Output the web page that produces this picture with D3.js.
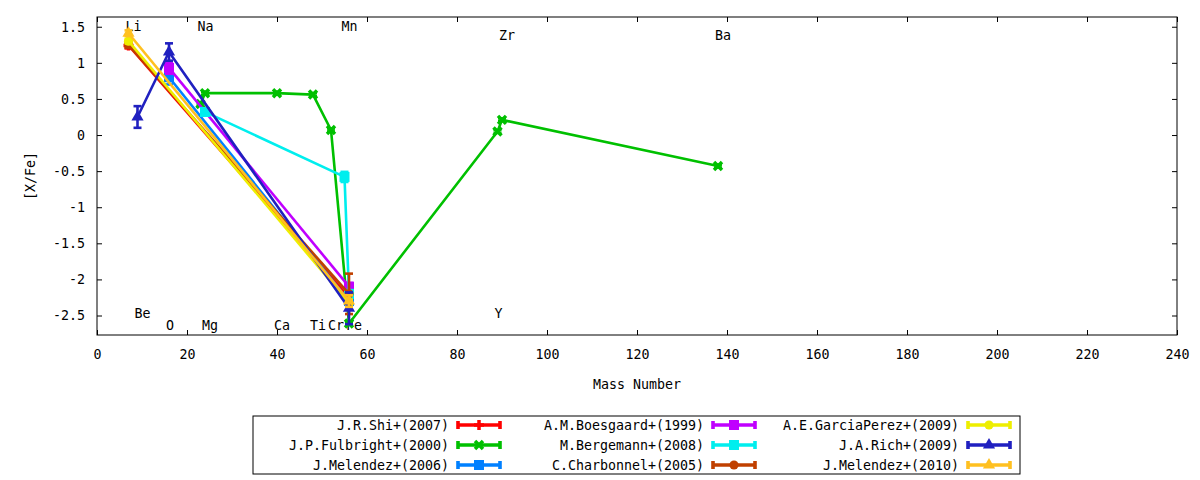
<!DOCTYPE html>
<html>
<head>
<meta charset="utf-8">
<script src="https://cdn.jsdelivr.net/npm/d3@7"></script>
<style>
    body { margin: 0; background: #fff; }
    svg text { font-family: "DejaVu Sans Mono", monospace; font-size: 13.3px; fill: #000; }
</style>
</head>
<body>
<svg id="chart"></svg>
<script>
// axis ticks
const xTicks = [0, 20, 40, 60, 80, 100, 120, 140, 160, 180, 200, 220, 240];
const yTicks = [-2.5, -2, -1.5, -1, -0.5, 0, 0.5, 1, 1.5];

// element labels: mass number and the [X/Fe] level the label sits at
const elements = ["Li", "Be", "O", "Na", "Mg", "Ca", "Ti", "Cr", "Mn", "Fe", "Y", "Zr", "Ba"];
const massNumbers = [7, 9, 16, 23, 24, 40, 48, 52, 55, 56, 89, 90, 138];
const labelLevels = [1.5, -2.47, -2.64, 1.5, -2.64, -2.64, -2.64, -2.64, 1.5, -2.64, -2.47, 1.38, 1.38];

// one entry per reference
const seriesNames = [
    "J.R.Shi+(2007)", "J.P.Fulbright+(2000)", "J.Melendez+(2006)",
    "A.M.Boesgaard+(1999)", "M.Bergemann+(2008)", "C.Charbonnel+(2005)",
    "A.E.GarciaPerez+(2009)", "J.A.Rich+(2009)", "J.Melendez+(2010)"
];
const seriesElements = [
    ["Li", "Fe"],
    ["Na", "Mg", "Ca", "Ti", "Cr", "Fe", "Y", "Zr", "Ba"],
    ["O", "Fe"],
    ["O", "Fe"],
    ["Mg", "Mn", "Fe"],
    ["Li", "Fe"],
    ["Li", "Fe"],
    ["Be", "O", "Fe"],
    ["Li", "Fe"]
];
const seriesValues = [
    [1.24, -2.25],
    [0.43, 0.58, 0.58, 0.56, 0.07, -2.61, 0.05, 0.21, -0.43],
    [0.8, -2.3],
    [0.93, -2.1],
    [0.32, -0.58, -2.2],
    [1.25, -2.2],
    [1.3, -2.33],
    [0.25, 1.15, -2.4],
    [1.41, -2.3]
];
const seriesErrors = [
    [0.04, 0.05],
    [0.02, 0.02, 0.02, 0.02, 0.02, 0.02, 0.02, 0.02, 0.02],
    [0.1, 0.08],
    [0.08, 0.05],
    [0.05, 0.07, 0.05],
    [0.04, 0.28],
    [0.03, 0.05],
    [0.15, 0.12, 0.22],
    [0.04, 0.08]
];

class AbundanceChart {

    constructor(_config, _data) {
        this.config = {
            parentElement: _config.parentElement,
            containerWidth: _config.containerWidth || 1200,
            containerHeight: _config.containerHeight || 480,
            margin: { top: 17, right: 23, bottom: 145, left: 97, ..._config.margin },
            xDomain: _config.xDomain,
            yDomain: _config.yDomain,
            colors: _config.colors,
            symbols: _config.symbols,
            lineWidth: 2.6,
            tickLength: 5,
        };
        this.data = _data;
        this.initVis();
    }

    initVis() {
        const cfg = this.config;
        this.width = cfg.containerWidth - cfg.margin.left - cfg.margin.right;
        this.height = cfg.containerHeight - cfg.margin.top - cfg.margin.bottom;

        this.xScale = d3.scaleLinear().domain(cfg.xDomain).range([0, this.width]);
        this.yScale = d3.scaleLinear().domain(cfg.yDomain).range([this.height, 0]);

        this.svg = d3.select(cfg.parentElement)
            .attr("width", cfg.containerWidth)
            .attr("height", cfg.containerHeight);

        this.chart = this.svg.append("g")
            .attr("transform", `translate(${cfg.margin.left}, ${cfg.margin.top})`);

        this.renderAxes();
        this.renderLabels();
        this.renderSeries();
        this.renderLegend();
    }

    renderAxes() {
        const t = this.config.tickLength;
        const fmt = (d) => String(d);

        this.chart.append("g")
            .attr("transform", `translate(0, ${this.height})`)
            .call(d3.axisBottom(this.xScale).tickValues(xTicks).tickFormat(fmt)
                .tickSizeInner(-t).tickSizeOuter(0).tickPadding(15));
        this.chart.append("g")
            .call(d3.axisTop(this.xScale).tickValues(xTicks).tickFormat("")
                .tickSizeInner(-t).tickSizeOuter(0));
        this.chart.append("g")
            .call(d3.axisLeft(this.yScale).tickValues(yTicks).tickFormat(fmt)
                .tickSizeInner(-t).tickSizeOuter(0).tickPadding(12));
        this.chart.append("g")
            .attr("transform", `translate(${this.width}, 0)`)
            .call(d3.axisRight(this.yScale).tickValues(yTicks).tickFormat("")
                .tickSizeInner(-t).tickSizeOuter(0));

        this.chart.selectAll(".domain").remove();
        this.chart.selectAll(".tick text").attr("font-family", null).attr("font-size", null);
        this.chart.selectAll(".tick line").attr("stroke", "#000");

        this.chart.append("rect")
            .attr("width", this.width)
            .attr("height", this.height)
            .attr("fill", "none")
            .attr("stroke", "#000")
            .attr("stroke-width", 1);

        this.chart.append("text")
            .attr("x", this.width / 2)
            .attr("y", this.height + 49)
            .attr("dy", "0.35em")
            .attr("text-anchor", "middle")
            .text("Mass Number");

        this.chart.append("text")
            .attr("transform", `translate(-67, ${this.height / 2}) rotate(-90)`)
            .attr("dy", "0.35em")
            .attr("text-anchor", "middle")
            .text("[X/Fe]");
    }

    renderLabels() {
        // element names, left-justified at their mass number like gnuplot labels
        this.chart.selectAll(".el-label")
            .data(elements)
            .join("text")
            .attr("class", "el-label")
            .attr("x", (d, i) => this.xScale(massNumbers[i]) - 3)
            .attr("y", (d, i) => this.yScale(labelLevels[i]))
            .attr("dy", "0.35em")
            .text((d) => d);
    }

    marker(sel, kind, color) {
        if (kind === "plus") {
            sel.append("path").attr("d", "M-5,0H5M0,-5V5")
                .attr("stroke", color).attr("stroke-width", 3.5).attr("fill", "none");
        } else if (kind === "cross") {
            sel.append("path").attr("d", "M-4,-4L4,4M-4,4L4,-4")
                .attr("stroke", color).attr("stroke-width", 3.5).attr("fill", "none");
        } else {
            const shapes = {
                square: [d3.symbolSquare, 100],
                circle: [d3.symbolCircle, 66],
                triangle: [d3.symbolTriangle, 64],
            };
            const [type, size] = shapes[kind];
            sel.append("path").attr("d", d3.symbol(type, size)()).attr("fill", color);
        }
    }

    renderSeries() {
        const lw = this.config.lineWidth;
        const line = d3.line()
            .x((d) => this.xScale(d.mass))
            .y((d) => this.yScale(d.value));

        this.data.forEach((s, i) => {
            const color = this.config.colors[i];
            const g = this.chart.append("g").attr("class", "series");

            g.append("path")
                .datum(s.points)
                .attr("d", line)
                .attr("fill", "none")
                .attr("stroke", color)
                .attr("stroke-width", lw)
                .attr("stroke-linejoin", "round");

            const bars = g.selectAll(".err")
                .data(s.points)
                .join("g")
                .attr("class", "err")
                .attr("transform", (d) => `translate(${this.xScale(d.mass)}, 0)`)
                .attr("stroke", color)
                .attr("stroke-width", lw);
            bars.append("line")
                .attr("y1", (d) => this.yScale(d.value - d.err))
                .attr("y2", (d) => this.yScale(d.value + d.err));
            bars.append("line")
                .attr("x1", -4).attr("x2", 4)
                .attr("y1", (d) => this.yScale(d.value - d.err))
                .attr("y2", (d) => this.yScale(d.value - d.err));
            bars.append("line")
                .attr("x1", -4).attr("x2", 4)
                .attr("y1", (d) => this.yScale(d.value + d.err))
                .attr("y2", (d) => this.yScale(d.value + d.err));

            g.selectAll(".pt")
                .data(s.points)
                .join("g")
                .attr("class", "pt")
                .attr("transform", (d) => `translate(${this.xScale(d.mass)}, ${this.yScale(d.value)})`)
                .each((d, j, nodes) => this.marker(d3.select(nodes[j]), this.config.symbols[i], color));
        });
    }

    renderLegend() {
        const lw = this.config.lineWidth;
        const legend = this.svg.append("g").attr("class", "legend");

        legend.append("rect")
            .attr("x", 253).attr("y", 416)
            .attr("width", 767).attr("height", 58)
            .attr("fill", "none").attr("stroke", "#000");

        const items = legend.selectAll(".item")
            .data(this.data)
            .join("g")
            .attr("class", "item")
            .attr("transform", (d, i) => `translate(${449 + Math.floor(i / 3) * 255}, ${425 + (i % 3) * 20})`);

        items.append("text")
            .attr("text-anchor", "end")
            .attr("dy", "0.35em")
            .text((d) => d.name);

        items.each((d, i, nodes) => {
            const item = d3.select(nodes[i]);
            const color = this.config.colors[i];
            const s = item.append("g").attr("stroke", color).attr("stroke-width", lw + 1);
            s.append("line").attr("x1", 9).attr("x2", 51);
            s.append("line").attr("x1", 9).attr("x2", 9).attr("y1", -4).attr("y2", 4);
            s.append("line").attr("x1", 51).attr("x2", 51).attr("y1", -4).attr("y2", 4);
            const m = item.append("g").attr("transform", "translate(30, 0)");
            this.marker(m, this.config.symbols[i], color);
        });
    }
}

const data = seriesNames.map((name, i) => ({
    name: name,
    points: seriesElements[i].map((el, j) => ({
        mass: massNumbers[elements.indexOf(el)],
        value: seriesValues[i][j],
        err: seriesErrors[i][j],
    })),
}));

new AbundanceChart({
    parentElement: "#chart",
    xDomain: [0, 240],
    yDomain: [-2.77, 1.635],
    colors: ["#ff0000", "#00c000", "#0080ff", "#c000ff", "#00eeee", "#c04000", "#eeee00", "#2020c0", "#ffc020"],
    symbols: ["plus", "cross", "square", "square", "square", "circle", "circle", "triangle", "triangle"],
}, data);
</script>
</body>
</html>
